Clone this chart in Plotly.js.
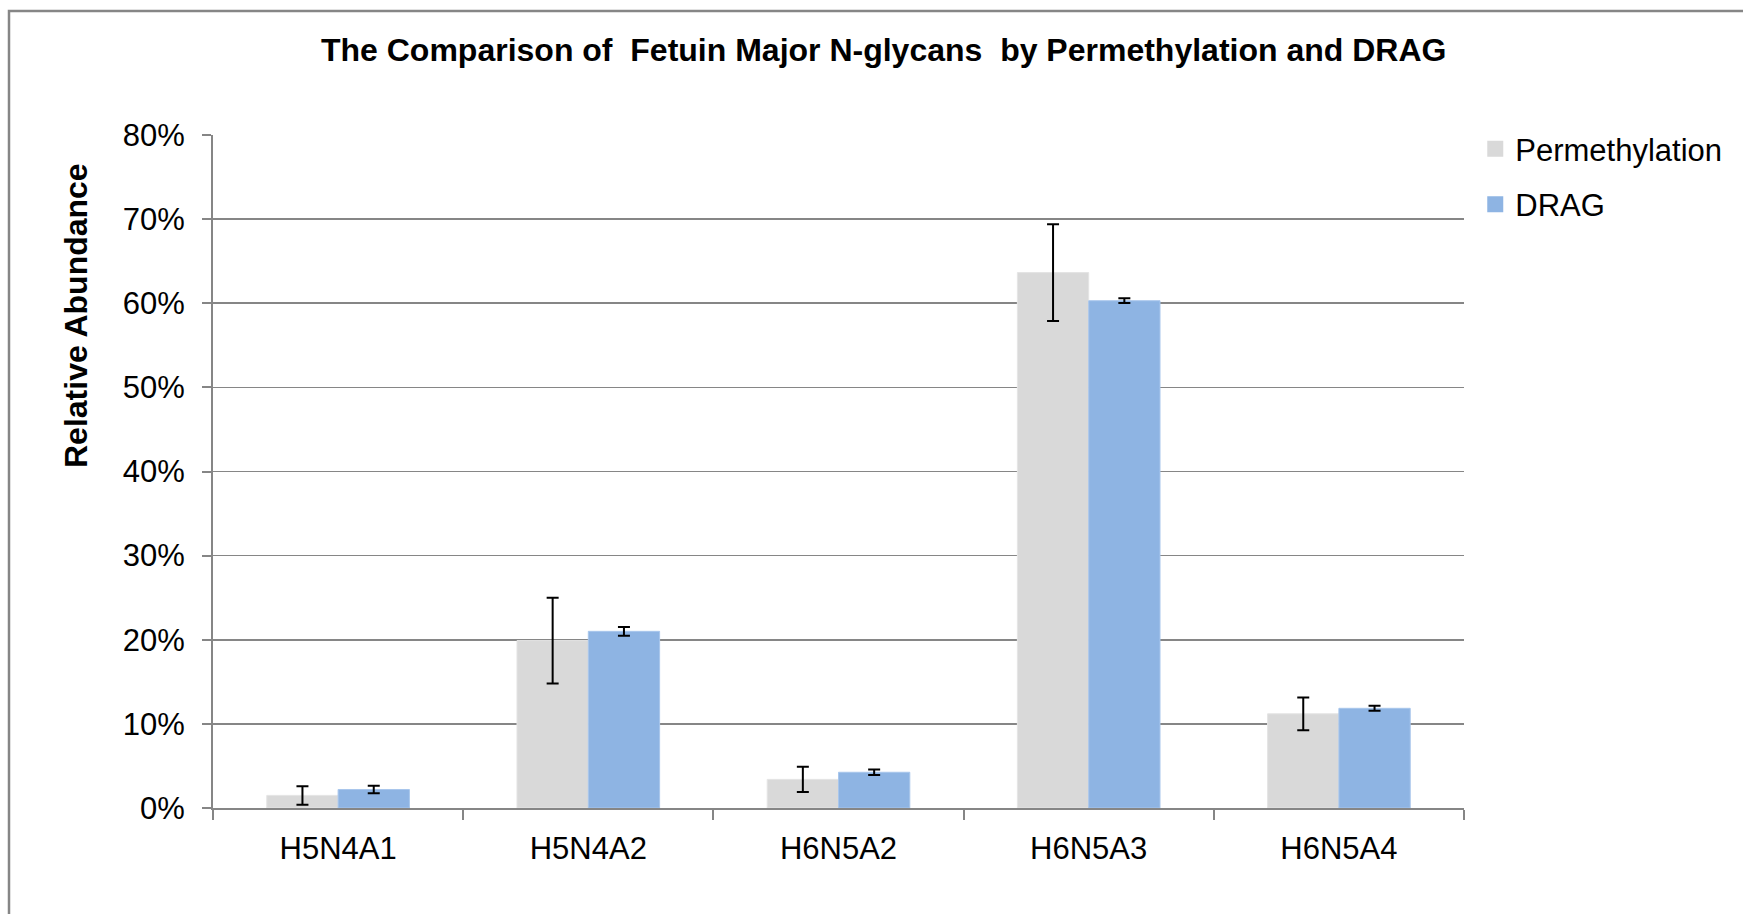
<!DOCTYPE html>
<html>
<head>
<meta charset="utf-8">
<script src="https://cdn.plot.ly/plotly-3.0.1.min.js"></script>
<style>html,body{margin:0;padding:0;background:#fff;}#chart{width:1743px;height:914px;}</style>
</head>
<body>
<div id="chart"></div>
<script>
const categories = ["H5N4A1", "H5N4A2", "H6N5A2", "H6N5A3", "H6N5A4"];
const permethylation = [1.5, 19.9, 3.4, 63.65, 11.2];
const permethylationErr = [1.1, 5.1, 1.5, 5.75, 1.95];
const drag = [2.2, 21.0, 4.25, 60.3, 11.85];
const dragErr = [0.45, 0.52, 0.32, 0.28, 0.3];
const yTickVals = [0, 10, 20, 30, 40, 50, 60, 70, 80];
const yTickText = ["0%", "10%", "20%", "30%", "40%", "50%", "60%", "70%", "80%"];
const seriesNames = ["Permethylation", "DRAG"];
const seriesColors = ["#d9d9d9", "#8eb4e3"];

const font = "Liberation Sans, Arial, sans-serif";
const traces = [
  {
    type: "bar", name: seriesNames[0], x: categories, y: permethylation, showlegend: false,
    marker: {color: seriesColors[0], line: {color: "#e4e4e4", width: 1}},
    error_y: {type: "data", array: permethylationErr, visible: true, color: "#000", thickness: 2, width: 6}
  },
  {
    type: "bar", name: seriesNames[1], x: categories, y: drag, showlegend: false,
    marker: {color: seriesColors[1], line: {color: "#a8c6ec", width: 1}},
    error_y: {type: "data", array: dragErr, visible: true, color: "#000", thickness: 2, width: 6}
  },
  {
    type: "scatter", mode: "markers", name: seriesNames[0], x: [null], y: [null], legendgroup: "a",
    marker: {symbol: "square", size: 16, color: seriesColors[0]}
  },
  {
    type: "scatter", mode: "markers", name: seriesNames[1], x: [null], y: [null], legendgroup: "b",
    marker: {symbol: "square", size: 16, color: seriesColors[1]}
  }
];

const layout = {
  width: 1743, height: 914,
  margin: {l: 213, r: 279, t: 135, b: 106},
  paper_bgcolor: "#fff", plot_bgcolor: "#fff",
  font: {family: font, color: "#000", size: 31},
  title: {
    text: "<b>The Comparison of \u00a0Fetuin Major N-glycans \u00a0by Permethylation and DRAG</b>",
    font: {family: font, size: 32, color: "#000"},
    xref: "container", yref: "container", x: 0.507, y: 1 - 50/914, xanchor: "center", yanchor: "middle"
  },
  barmode: "group", bargap: 0.43, bargroupgap: 0,
  xaxis: {
    type: "category", showline: true, linecolor: "#868686", linewidth: 2,
    ticks: "outside", tickson: "boundaries", ticklen: 10, tickcolor: "#868686", tickwidth: 2,
    tickfont: {family: font, size: 31}, ticklabelstandoff: 12, showgrid: false, zeroline: false
  },
  yaxis: {
    range: [0, 80], tickvals: yTickVals, ticktext: yTickText,
    showline: true, linecolor: "#868686", linewidth: 2,
    ticks: "outside", ticklen: 9, tickcolor: "#868686", tickwidth: 2,
    showgrid: true, gridcolor: "#868686", gridwidth: 1.6, zeroline: false,
    tickfont: {family: font, size: 31}, ticklabelstandoff: 11,
    automargin: false
  },
  annotations: [
    {text: "<b>Relative Abundance</b>", xref: "paper", yref: "paper", x: (76-213)/1251, y: (808-316)/673,
     xanchor: "center", yanchor: "middle", textangle: -90, showarrow: false, font: {family: font, size: 32, color: "#000"}}
  ],
  legend: {
    x: 1.009, y: 1.019, xanchor: "left", yanchor: "top",
    font: {family: font, size: 31}, traceorder: "grouped", tracegroupgap: 12,
    bgcolor: "rgba(0,0,0,0)"
  },
  shapes: [
    {type: "rect", xref: "paper", yref: "paper", x0: (9-213)/1251, x1: (1760-213)/1251, y0: (808-930)/673, y1: (808-11)/673,
     line: {color: "#868686", width: 2.5}, fillcolor: "rgba(0,0,0,0)", layer: "below"}
  ]
};

Plotly.newPlot("chart", traces, layout, {displayModeBar: false, staticPlot: true});
</script>
</body>
</html>
